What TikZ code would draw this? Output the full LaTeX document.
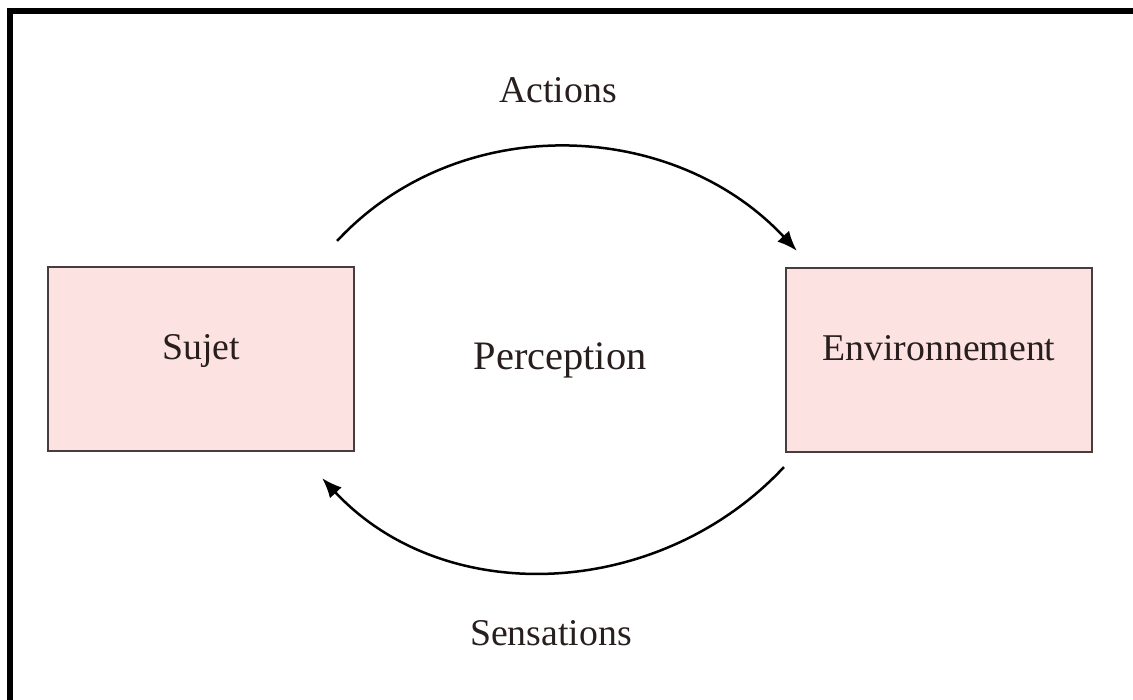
\documentclass[tikz,border=0pt]{standalone}
\usepackage{fontspec}
\setmainfont{Liberation Serif}
\usepackage{xcolor}
\usepackage{tikz}
\usetikzlibrary{arrows.meta}
\definecolor{boxpink}{RGB}{253,226,226}
\definecolor{boxedge}{RGB}{70,62,62}
\definecolor{inktext}{RGB}{40,30,30}

\begin{document}
\begin{tikzpicture}[x=0.02cm,y=0.02cm,
    bloc/.style={draw=boxedge,line width=0.045cm,fill=boxpink,minimum width=6.12cm,minimum height=3.68cm,inner sep=0pt,text depth=0.5cm},
    lbl/.style={font=\fontsize{21.5}{24}\selectfont,text=inktext},
    flow/.style={line width=0.05cm,-{Latex[length=0.4cm,width=0.32cm]}}]
	\useasboundingbox (0,0) rectangle (1133,700);
	\draw[line width=0.12cm] (10,0) -- (10,689) -- (1133,689);
	\node[bloc,lbl] (sujet) at (201,341) {Sujet};
	\node[bloc,lbl] (env) at (939,340) {Environnement};
	\node[lbl,font=\fontsize{23}{26}\selectfont] (perc) at (560,340) {Perception};
	\node[lbl] (act) at (558,610) {Actions};
	\node[lbl] (sens) at (551,67) {Sensations};
	\draw[flow] ([xshift=-0.36cm,yshift=0.5cm]sujet.north east) to[out=47,in=133] ([xshift=0.24cm,yshift=0.32cm]env.north west);
	\draw[flow] ([xshift=-0.02cm,yshift=-0.28cm]env.south west) to[out=-133,in=-47] ([xshift=-0.66cm,yshift=-0.52cm]sujet.south east);
\end{tikzpicture}
\end{document}
